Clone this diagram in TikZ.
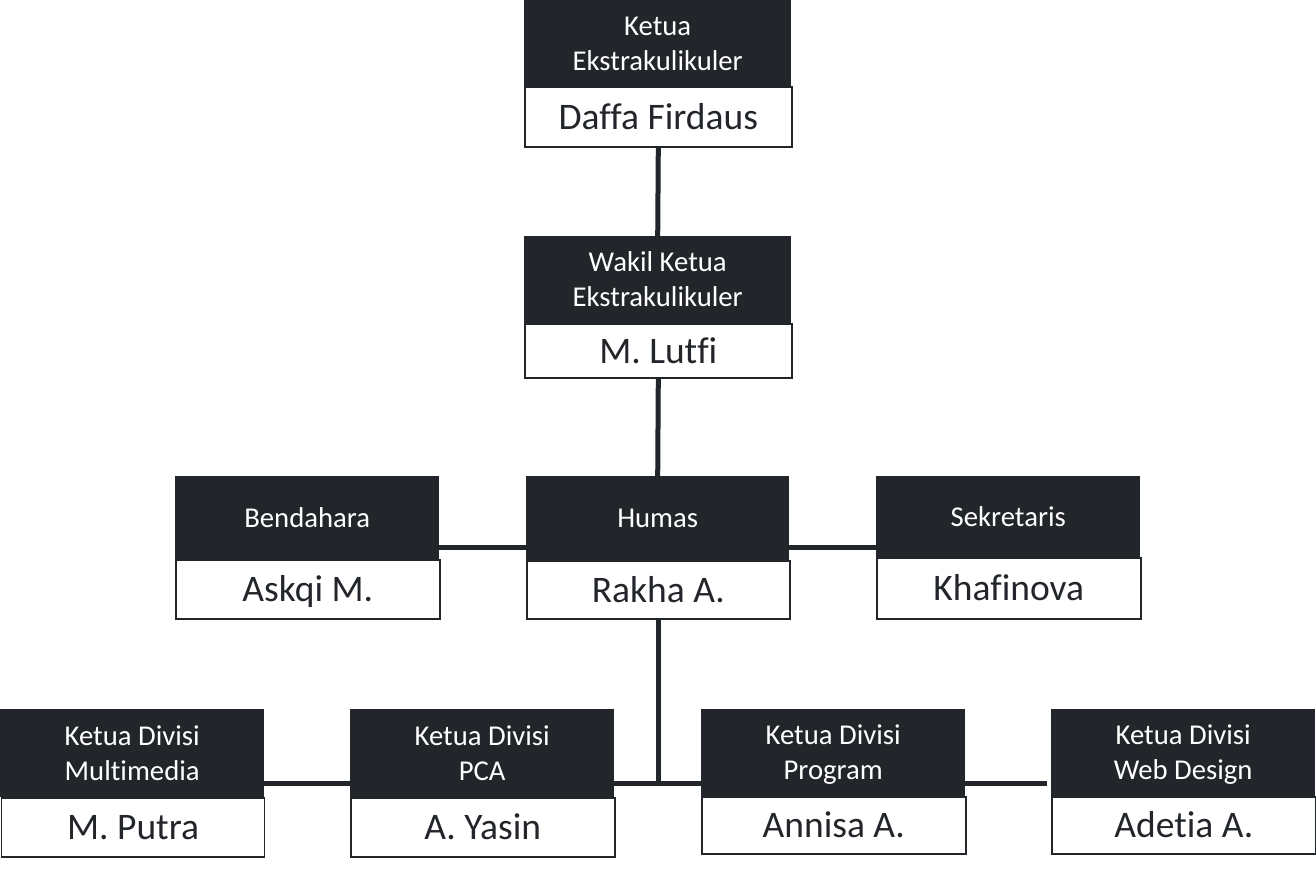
\documentclass[tikz,border=0pt]{standalone}
\usepackage{fontspec}
\setmainfont{Carlito}[Ligatures={NoCommon}]
\definecolor{dk}{RGB}{34,37,41}
\newcommand\hst{\rule[-6pt]{0pt}{31pt}}
\newcommand\nst{\rule[-5pt]{0pt}{35pt}}
\begin{document}
\begin{tikzpicture}[x=1pt,y=-1pt,
  hdr/.style={fill=dk,text=white,anchor=north west,inner sep=0pt,align=center,
    font=\fontsize{28.7}{35}\selectfont},
  nm/.style={draw=dk,line width=1.6pt,fill=white,text=dk,anchor=north west,inner sep=0pt,align=center,
    font=\fontsize{37.5}{40}\selectfont},
  conn/.style={draw=dk,line width=5pt}]
\useasboundingbox (0,0) rectangle (1316,872);
% top
\node[hdr,minimum width=267pt,minimum height=86pt] (ketuaH) at (524,0) {Ketua\hst\\Ekstrakulikuler\hst};
\node[nm,minimum width=267pt,minimum height=60pt] (ketuaN) at (524,86) {Daffa Firdaus\nst};
\node[hdr,minimum width=267pt,minimum height=87pt] (wakilH) at (524,236) {Wakil Ketua\hst\\Ekstrakulikuler\hst};
\node[nm,minimum width=267pt,minimum height=54pt] (wakilN) at (524,323) {M. Lutfi\nst};
% middle row
\node[hdr,minimum width=264pt,minimum height=83pt] (bendH) at (175,476) {Bendahara\hst};
\node[nm,minimum width=264pt,minimum height=59pt] (bendN) at (175,559) {Askqi M.\nst};
\node[hdr,minimum width=263pt,minimum height=84pt] (humasH) at (526,476) {Humas\hst};
\node[nm,minimum width=263pt,minimum height=58pt] (humasN) at (526,560) {Rakha A.\nst};
\node[hdr,minimum width=264pt,minimum height=81pt] (sekH) at (876,476) {Sekretaris\hst};
\node[nm,minimum width=264pt,minimum height=61pt] (sekN) at (876,557) {Khafinova\nst};
% bottom row
\node[hdr,minimum width=264pt,minimum height=88pt] (mmH) at (0,709) {Ketua Divisi\hst\\Multimedia\hst};
\node[nm,minimum width=263pt,minimum height=59pt] (mmN) at (0.8,797) {M. Putra\nst};
\node[hdr,minimum width=264pt,minimum height=88pt] (pcaH) at (350,709) {Ketua Divisi\hst\\PCA\hst};
\node[nm,minimum width=264pt,minimum height=59pt] (pcaN) at (350,797) {A. Yasin\nst};
\node[hdr,minimum width=264pt,minimum height=87pt] (progH) at (701,709) {Ketua Divisi\hst\\Program\hst};
\node[nm,minimum width=264pt,minimum height=57pt] (progN) at (701,796) {Annisa A.\nst};
\node[hdr,minimum width=264pt,minimum height=87pt] (webH) at (1051,709) {Ketua Divisi\hst\\Web Design\hst};
\node[nm,minimum width=264pt,minimum height=57pt] (webN) at (1051,796) {Adetia A.\nst};
% connectors
\coordinate (hy) at (0,547);
\coordinate (by) at (0,783);
\draw[conn] (ketuaN.south) -- (wakilH.north);
\draw[conn] (wakilN.south) -- (humasH.north);
\draw[conn] (bendH.east |- hy) -- (humasH.west |- hy);
\draw[conn] (humasH.east |- hy) -- (sekH.west |- hy);
\draw[conn] (humasN.south) -- (humasN.south |- by);
\draw[conn] (mmH.east |- by) -- (pcaH.west |- by);
\draw[conn] (pcaH.east |- by) -- (progH.west |- by);
\draw[conn,shorten >=4pt] (progH.east |- by) -- (webH.west |- by);
\end{tikzpicture}
\end{document}
